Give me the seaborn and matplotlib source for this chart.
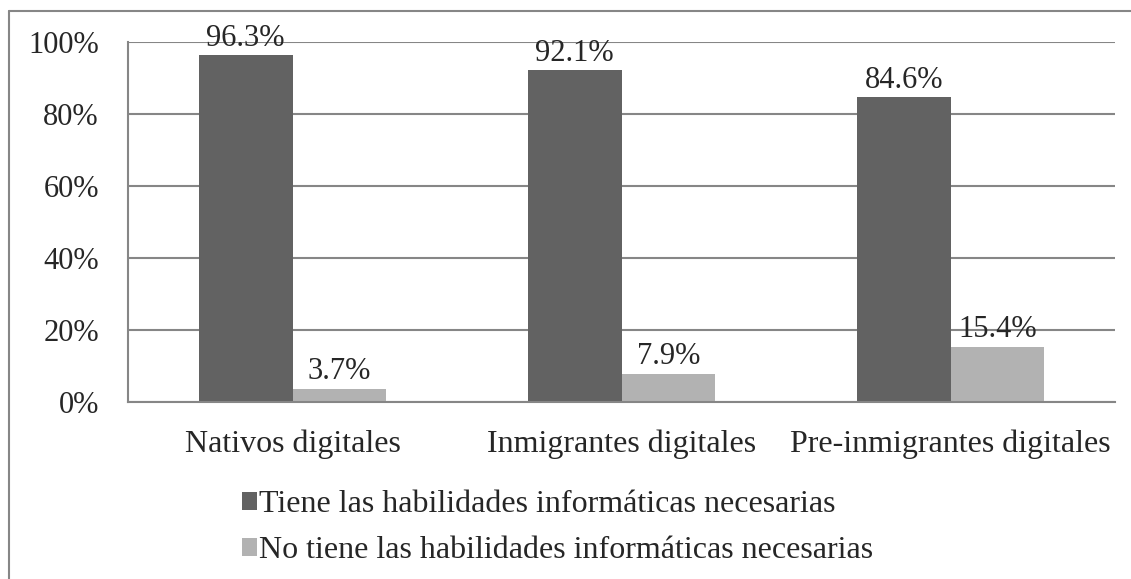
import pandas as pd
import matplotlib
matplotlib.use("Agg")
import matplotlib.pyplot as plt
import seaborn as sns
from matplotlib.lines import Line2D

# Datos del grafico
grupos = ["Nativos digitales", "Inmigrantes digitales", "Pre-inmigrantes digitales"]
series = ["Tiene las habilidades informáticas necesarias",
          "No tiene las habilidades informáticas necesarias"]
tiene = [96.3, 92.1, 84.6]
no_tiene = [3.7, 7.9, 15.4]

df = pd.DataFrame({
    "grupo": grupos * 2,
    "serie": [series[0]] * 3 + [series[1]] * 3,
    "valor": tiene + no_tiene,
})

sns.set_style("white")
plt.rcParams["font.family"] = ["Liberation Serif", "DejaVu Serif"]

gris = "#868686"
colores = {series[0]: "#626262", series[1]: "#b2b2b2"}

fig = plt.figure(figsize=(11.31, 5.79), dpi=100)
ax = fig.add_axes([0.1132, 0.3057, 0.9859 - 0.1132, 0.9275 - 0.3057])

sns.barplot(data=df, x="grupo", y="valor", hue="serie", order=grupos,
            hue_order=series, palette=colores, width=0.57, saturation=1,
            linewidth=0, ax=ax, legend=True)

# Etiquetas de datos
for cont in ax.containers:
    ax.bar_label(cont, labels=[f"{v:.1f}%" for v in cont.datavalues],
                 padding=2, fontsize=22)

ax.set_ylim(0, 100)
ax.set_xlim(-0.5, 2.5)
ax.set_yticks([0, 20, 40, 60, 80, 100])
ax.set_yticklabels([f"{t}%" for t in [0, 20, 40, 60, 80, 100]])
ax.set_xlabel("")
ax.set_ylabel("")
ax.yaxis.grid(True, color=gris, linewidth=1.5)
ax.set_axisbelow(True)

# Separadores de categorias
ax.set_xticks([-0.5, 0.5, 1.5, 2.5], minor=True)
ax.tick_params(axis="x", which="major", length=0, labelsize=23, pad=20)
ax.tick_params(axis="x", which="minor", length=10, width=1.5, color=gris, direction="out")
ax.tick_params(axis="y", length=10, width=1.5, color=gris, direction="out", labelsize=22, pad=11)

for lado in ["top", "right"]:
    ax.spines[lado].set_visible(False)
for lado in ["left", "bottom"]:
    ax.spines[lado].set_color(gris)
    ax.spines[lado].set_linewidth(1.5)

handles, labels = ax.get_legend_handles_labels()
ax.get_legend().remove()
fig.legend(handles, labels, loc="upper left", bbox_to_anchor=(0.2, 0.181),
           frameon=False, fontsize=23, handlelength=0.47, handleheight=0.47,
           handletextpad=0.05, labelspacing=0.53, borderpad=0)

# Borde del grafico
fig.add_artist(Line2D([0.008, 1.0], [1 - 11 / 579, 1 - 11 / 579], color=gris, lw=1.5))
fig.add_artist(Line2D([0.008, 0.008], [0, 1 - 11 / 579], color=gris, lw=1.5))

fig.savefig("out.png", dpi=100)
